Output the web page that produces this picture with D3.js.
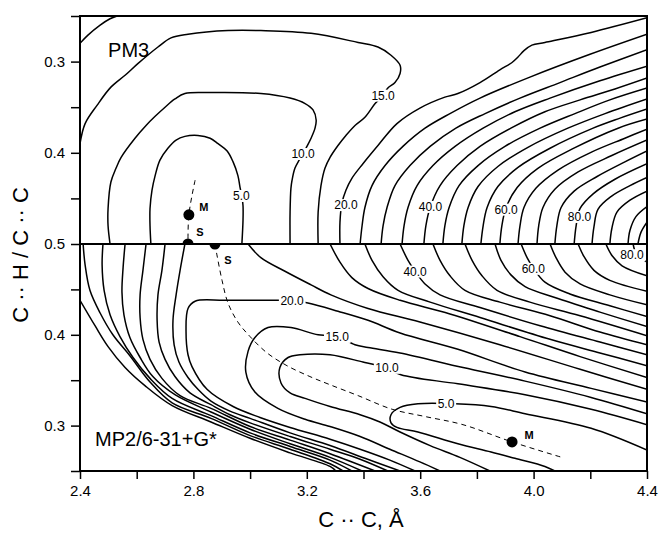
<!DOCTYPE html>
<html>
<head>
<meta charset="utf-8">
<script src="https://cdn.jsdelivr.net/npm/d3@7"></script>
<style>
body { margin: 0; background: #fff; }
svg { display: block; font-family: "Liberation Sans", Arial, sans-serif; }
</style>
</head>
<body>
<div id="chart"></div>
<script>
// axis ticks
const xTicks = [2.4, 2.6, 2.8, 3.0, 3.2, 3.4, 3.6, 3.8, 4.0, 4.2, 4.4];
const xTickLabels = ["2.4", "", "2.8", "", "3.2", "", "3.6", "", "4.0", "", "4.4"];
const yTopTicks = [0.25, 0.3, 0.35, 0.4, 0.45, 0.5];
const yTopTickLabels = ["", "0.3", "", "0.4", "", "0.5"];
const yBotTicks = [0.25, 0.3, 0.35, 0.4, 0.45];
const yBotTickLabels = ["", "0.3", "", "0.4", ""];

// PM3 panel contours, [C..C, C..H/C..C]
const pm3_5 = [[2.650,0.500],[2.647,0.480],[2.647,0.461],[2.654,0.441],[2.665,0.425],[2.682,0.408],[2.710,0.395],[2.739,0.386],[2.770,0.382],[2.816,0.381],[2.859,0.384],[2.887,0.390],[2.919,0.398],[2.940,0.410],[2.957,0.425],[2.964,0.437],[2.971,0.448],[2.975,0.458],[2.975,0.474],[2.971,0.500]];
const pm3_10 = [[2.506,0.500],[2.499,0.480],[2.499,0.461],[2.509,0.432],[2.527,0.417],[2.545,0.405],[2.594,0.384],[2.633,0.370],[2.665,0.360],[2.700,0.350],[2.735,0.341],[2.770,0.335],[2.862,0.334],[3.038,0.335],[3.141,0.340],[3.194,0.346],[3.222,0.353],[3.233,0.364],[3.229,0.373],[3.215,0.384],[3.197,0.395],[3.187,0.401],[3.173,0.408],[3.158,0.417],[3.148,0.430],[3.144,0.439],[3.141,0.465],[3.141,0.500]];
const pm3_15 = [[2.400,0.390],[2.418,0.368],[2.460,0.348],[2.509,0.328],[2.559,0.315],[2.605,0.302],[2.675,0.284],[2.721,0.274],[2.781,0.270],[2.922,0.266],[3.038,0.266],[3.215,0.269],[3.381,0.279],[3.451,0.284],[3.497,0.293],[3.529,0.304],[3.529,0.313],[3.511,0.323],[3.486,0.329],[3.469,0.337],[3.441,0.346],[3.405,0.361],[3.370,0.370],[3.338,0.381],[3.310,0.392],[3.282,0.405],[3.264,0.417],[3.250,0.436],[3.240,0.465],[3.240,0.500]];
const pm3_20a = [[2.400,0.280],[2.428,0.271],[2.471,0.260],[2.506,0.253],[2.531,0.250]];
const pm3_20 = [[3.317,0.500],[3.317,0.476],[3.324,0.455],[3.338,0.441],[3.359,0.428],[3.398,0.412],[3.451,0.392],[3.518,0.368],[3.599,0.351],[3.687,0.339],[3.733,0.335],[3.811,0.323],[3.881,0.309],[3.924,0.301],[3.945,0.295],[3.966,0.288],[3.994,0.282],[4.040,0.279],[4.203,0.268],[4.400,0.252]];
const pm3_25 = [[3.388,0.500],[3.395,0.480],[3.405,0.460],[3.430,0.436],[3.476,0.414],[3.539,0.393],[3.617,0.373],[3.705,0.357],[3.811,0.340],[3.987,0.317],[4.199,0.292],[4.400,0.270]];
const pm3_30 = [[3.462,0.500],[3.469,0.480],[3.483,0.460],[3.511,0.436],[3.564,0.414],[3.635,0.393],[3.726,0.373],[3.829,0.357],[3.952,0.340],[4.093,0.323],[4.234,0.306],[4.400,0.287]];
const pm3_35 = [[3.536,0.500],[3.543,0.480],[3.557,0.460],[3.589,0.436],[3.645,0.414],[3.723,0.393],[3.822,0.373],[3.934,0.355],[4.058,0.340],[4.234,0.321],[4.400,0.305]];
const pm3_40 = [[3.613,0.500],[3.620,0.480],[3.635,0.460],[3.670,0.436],[3.730,0.414],[3.811,0.393],[3.920,0.373],[4.040,0.355],[4.164,0.342],[4.287,0.330],[4.400,0.318]];
const pm3_45 = [[3.680,0.500],[3.687,0.480],[3.702,0.460],[3.737,0.436],[3.804,0.414],[3.899,0.393],[4.023,0.373],[4.146,0.357],[4.269,0.342],[4.400,0.329]];
const pm3_50 = [[3.747,0.500],[3.754,0.480],[3.769,0.460],[3.804,0.437],[3.874,0.415],[3.980,0.394],[4.121,0.373],[4.252,0.357],[4.400,0.341]];
const pm3_55 = [[3.814,0.500],[3.822,0.480],[3.836,0.460],[3.874,0.437],[3.945,0.416],[4.058,0.395],[4.210,0.373],[4.305,0.362],[4.400,0.352]];
const pm3_60 = [[3.881,0.500],[3.888,0.480],[3.903,0.460],[3.942,0.438],[4.015,0.417],[4.135,0.396],[4.298,0.373],[4.400,0.363]];
const pm3_65 = [[3.945,0.500],[3.952,0.480],[3.966,0.460],[4.008,0.439],[4.086,0.419],[4.206,0.399],[4.322,0.384],[4.400,0.374]];
const pm3_70 = [[4.012,0.500],[4.018,0.480],[4.033,0.460],[4.075,0.440],[4.157,0.421],[4.276,0.403],[4.400,0.386]];
const pm3_75 = [[4.075,0.500],[4.082,0.480],[4.097,0.460],[4.143,0.442],[4.224,0.426],[4.322,0.410],[4.400,0.398]];
const pm3_80 = [[4.143,0.500],[4.150,0.480],[4.164,0.461],[4.210,0.445],[4.287,0.429],[4.400,0.412]];
const pm3_85 = [[4.206,0.500],[4.213,0.481],[4.227,0.462],[4.273,0.448],[4.340,0.436],[4.400,0.427]];
const pm3_90 = [[4.269,0.500],[4.276,0.483],[4.294,0.465],[4.340,0.452],[4.400,0.442]];
const pm3_95 = [[4.333,0.500],[4.340,0.485],[4.361,0.470],[4.400,0.459]];
const pm3_100 = [[4.368,0.500],[4.379,0.487],[4.400,0.476]];

// MP2/6-31+G* panel contours
const mp2_5 = [[4.400,0.273],[4.203,0.297],[3.970,0.313],[3.850,0.321],[3.723,0.324],[3.592,0.324],[3.529,0.320],[3.497,0.312],[3.497,0.303],[3.518,0.298],[3.592,0.293],[3.733,0.280],[3.850,0.271],[3.934,0.264],[4.040,0.255],[4.075,0.250]];
const mp2_10 = [[4.400,0.301],[4.203,0.318],[3.970,0.334],[3.733,0.346],[3.532,0.356],[3.479,0.364],[3.441,0.367],[3.398,0.370],[3.282,0.378],[3.176,0.378],[3.134,0.375],[3.105,0.364],[3.109,0.347],[3.141,0.336],[3.194,0.330],[3.282,0.321],[3.388,0.312],[3.458,0.304],[3.529,0.293],[3.635,0.278],[3.740,0.265],[3.846,0.250]];
const mp2_15 = [[4.400,0.313],[4.203,0.331],[3.970,0.349],[3.751,0.364],[3.529,0.380],[3.416,0.386],[3.370,0.389],[3.303,0.399],[3.240,0.400],[3.144,0.408],[3.063,0.408],[3.017,0.397],[2.993,0.382],[2.985,0.359],[3.017,0.337],[3.098,0.319],[3.194,0.307],[3.282,0.299],[3.388,0.288],[3.493,0.274],[3.599,0.260],[3.670,0.250]];
const mp2_20 = [[4.400,0.326],[4.203,0.341],[3.970,0.359],[3.733,0.384],[3.529,0.402],[3.416,0.416],[3.310,0.426],[3.204,0.435],[3.144,0.438],[3.098,0.438],[2.911,0.438],[2.806,0.437],[2.781,0.429],[2.774,0.404],[2.781,0.378],[2.795,0.365],[2.848,0.340],[2.940,0.321],[3.035,0.309],[3.141,0.298],[3.282,0.285],[3.388,0.274],[3.493,0.262],[3.582,0.250]];
const mp2_25 = [[2.993,0.500],[3.038,0.485],[3.123,0.470],[3.215,0.455],[3.285,0.444],[3.416,0.429],[3.599,0.414],[3.881,0.389],[4.164,0.362],[4.400,0.340]];
const mp2_30 = [[3.282,0.500],[3.317,0.480],[3.359,0.463],[3.416,0.451],[3.529,0.438],[3.705,0.423],[3.952,0.398],[4.164,0.376],[4.400,0.353]];
const mp2_35 = [[3.405,0.500],[3.430,0.482],[3.469,0.464],[3.522,0.449],[3.635,0.436],[3.811,0.419],[4.058,0.395],[4.234,0.380],[4.400,0.366]];
const mp2_40 = [[3.529,0.500],[3.557,0.482],[3.582,0.470],[3.617,0.456],[3.670,0.444],[3.811,0.430],[4.023,0.410],[4.234,0.392],[4.400,0.378]];
const mp2_45 = [[3.645,0.500],[3.670,0.482],[3.705,0.465],[3.758,0.449],[3.881,0.436],[4.058,0.421],[4.234,0.403],[4.400,0.389]];
const mp2_50 = [[3.758,0.500],[3.783,0.482],[3.818,0.465],[3.871,0.449],[3.987,0.436],[4.164,0.421],[4.400,0.399]];
const mp2_55 = [[3.864,0.500],[3.885,0.482],[3.920,0.466],[3.970,0.453],[4.075,0.441],[4.234,0.425],[4.400,0.409]];
const mp2_60 = [[3.956,0.500],[3.977,0.485],[3.998,0.474],[4.040,0.458],[4.128,0.445],[4.269,0.432],[4.400,0.420]];
const mp2_65 = [[4.058,0.500],[4.079,0.485],[4.111,0.469],[4.164,0.456],[4.269,0.444],[4.400,0.433]];
const mp2_70 = [[4.157,0.500],[4.178,0.486],[4.213,0.471],[4.269,0.460],[4.400,0.448]];
const mp2_75 = [[4.255,0.500],[4.277,0.487],[4.312,0.476],[4.400,0.465]];
const mp2_80 = [[4.351,0.500],[4.361,0.490],[4.382,0.484],[4.400,0.480]];
// repulsive wall, lower left
const mp2_w25 = [[2.770,0.500],[2.753,0.471],[2.739,0.444],[2.728,0.416],[2.732,0.389],[2.749,0.370],[2.781,0.353],[2.816,0.340],[2.862,0.327],[2.929,0.316],[3.000,0.308],[3.141,0.292],[3.282,0.278],[3.405,0.264],[3.529,0.250]];
const mp2_w30 = [[2.700,0.500],[2.689,0.471],[2.675,0.444],[2.672,0.416],[2.679,0.392],[2.700,0.373],[2.735,0.354],[2.788,0.336],[2.862,0.323],[2.929,0.312],[3.000,0.303],[3.141,0.288],[3.282,0.274],[3.388,0.263],[3.486,0.250]];
const mp2_w35 = [[2.633,0.500],[2.622,0.471],[2.612,0.444],[2.612,0.419],[2.622,0.395],[2.647,0.373],[2.689,0.352],[2.753,0.333],[2.862,0.319],[3.000,0.299],[3.141,0.284],[3.282,0.269],[3.441,0.250]];
const mp2_w40 = [[2.559,0.500],[2.552,0.474],[2.548,0.447],[2.555,0.422],[2.576,0.397],[2.612,0.375],[2.657,0.354],[2.735,0.334],[2.862,0.315],[3.000,0.296],[3.141,0.280],[3.282,0.265],[3.395,0.250]];
const mp2_w45 = [[2.481,0.500],[2.478,0.477],[2.485,0.449],[2.506,0.422],[2.541,0.398],[2.587,0.375],[2.647,0.352],[2.725,0.330],[2.862,0.311],[3.000,0.292],[3.141,0.277],[3.282,0.262],[3.359,0.250]];
const mp2_w50 = [[2.411,0.500],[2.418,0.477],[2.435,0.449],[2.471,0.424],[2.516,0.400],[2.576,0.377],[2.647,0.348],[2.725,0.325],[2.862,0.308],[3.000,0.289],[3.141,0.274],[3.282,0.258],[3.328,0.250]];
const mp2_w55 = [[2.400,0.438],[2.453,0.410],[2.499,0.387],[2.559,0.364],[2.629,0.344],[2.725,0.322],[2.862,0.304],[3.000,0.286],[3.141,0.270],[3.282,0.255],[3.303,0.250]];

// reaction paths (dashed) and stationary points
const pm3Path = [[2.806,0.430],[2.784,0.468],[2.781,0.500]];
const mp2Path = [[2.876,0.500],[2.883,0.488],[2.901,0.460],[2.922,0.435],[2.957,0.414],[3.000,0.398],[3.060,0.380],[3.130,0.366],[3.211,0.354],[3.282,0.345],[3.381,0.333],[3.501,0.318],[3.617,0.310],[3.751,0.301],[3.924,0.282],[4.100,0.265]];
const pm3Points = [["M", 2.784, 0.468], ["S", 2.781, 0.500]];
const mp2Points = [["S", 2.876, 0.500], ["M", 3.924, 0.282]];

// contour labels [text, x, y]
const pm3Labels = [["5.0",2.969,0.447],["10.0",3.187,0.401],["15.0",3.469,0.337],["20.0",3.338,0.457],["40.0",3.636,0.459],["60.0",3.903,0.462],["80.0",4.162,0.470]];
const mp2Labels = [["5.0",3.691,0.324],["10.0",3.483,0.364],["15.0",3.307,0.398],["20.0",3.148,0.438],["40.0",3.582,0.470],["60.0",3.999,0.473],["80.0",4.347,0.488]];

const pm3Contours = [pm3_5, pm3_10, pm3_15, pm3_20a, pm3_20, pm3_25, pm3_30, pm3_35, pm3_40, pm3_45, pm3_50, pm3_55, pm3_60, pm3_65, pm3_70, pm3_75, pm3_80, pm3_85, pm3_90, pm3_95, pm3_100];
const mp2Contours = [mp2_5, mp2_10, mp2_15, mp2_20, mp2_25, mp2_30, mp2_35, mp2_40, mp2_45, mp2_50, mp2_55, mp2_60, mp2_65, mp2_70, mp2_75, mp2_80, mp2_w25, mp2_w30, mp2_w35, mp2_w40, mp2_w45, mp2_w50, mp2_w55];

const W = 662, H = 534;
const plotLeft = 80, plotRight = 647, plotTop = 16, plotMid = 244, plotBottom = 471;

const svg = d3.select("#chart").append("svg")
    .attr("width", W)
    .attr("height", H);

const x = d3.scaleLinear().domain([2.4, 4.4]).range([plotLeft, plotRight]);
const yTop = d3.scaleLinear().domain([0.25, 0.5]).range([plotTop, plotMid]);
const yBot = d3.scaleLinear().domain([0.5, 0.25]).range([plotMid, plotBottom]);

const defs = svg.append("defs");
defs.append("clipPath").attr("id", "clipTop")
  .append("rect").attr("x", plotLeft).attr("y", plotTop).attr("width", plotRight - plotLeft).attr("height", plotMid - plotTop);
defs.append("clipPath").attr("id", "clipBot")
  .append("rect").attr("x", plotLeft).attr("y", plotMid).attr("width", plotRight - plotLeft).attr("height", plotBottom - plotMid);

function drawPanel(clip, y, contours, path, points, labels, title, titlePos) {
    const g = svg.append("g").attr("clip-path", "url(#" + clip + ")");
    const line = d3.line()
        .x(d => x(d[0]))
        .y(d => y(d[1]))
        .curve(d3.curveCatmullRom.alpha(0.5));

    g.selectAll("path.contour")
      .data(contours)
      .join("path")
        .attr("class", "contour")
        .attr("d", line)
        .attr("fill", "none")
        .attr("stroke", "black")
        .attr("stroke-width", 1.5);

    g.append("path")
        .attr("d", line(path))
        .attr("fill", "none")
        .attr("stroke", "black")
        .attr("stroke-width", 1)
        .attr("stroke-dasharray", "5,4");

    g.selectAll("circle")
      .data(points)
      .join("circle")
        .attr("cx", d => x(d[1]))
        .attr("cy", d => y(d[2]))
        .attr("r", 5.5)
        .attr("fill", "black");

    // contour labels sit on a white patch that breaks the line
    const lg = svg.append("g").attr("font-size", 12);
    labels.forEach(d => {
        const t = lg.append("text")
            .attr("x", x(d[1]))
            .attr("y", y(d[2]))
            .attr("dy", "0.36em")
            .attr("text-anchor", "middle")
            .text(d[0]);
        const b = t.node().getBBox();
        lg.insert("rect", () => t.node())
            .attr("x", b.x - 1.5)
            .attr("y", b.y + 1)
            .attr("width", b.width + 3)
            .attr("height", b.height - 2)
            .attr("fill", "white");
    });

    svg.append("text")
        .attr("x", x(titlePos[0]))
        .attr("y", y(titlePos[1]))
        .attr("font-size", 20)
        .text(title);
}

drawPanel("clipTop", yTop, pm3Contours, pm3Path, pm3Points, pm3Labels, "PM3", [2.499, 0.295]);
drawPanel("clipBot", yBot, mp2Contours, mp2Path, mp2Points, mp2Labels, "MP2/6-31+G*", [2.453, 0.277]);

// M / S markers
const mk = svg.append("g").attr("font-size", 11).attr("font-weight", "bold");
mk.append("text").attr("x", x(pm3Points[0][1]) + 15).attr("y", yTop(pm3Points[0][2]) - 4).attr("text-anchor", "middle").text("M");
mk.append("text").attr("x", x(pm3Points[1][1]) + 12).attr("y", yTop(pm3Points[1][2]) - 8).attr("text-anchor", "middle").text("S");
mk.append("text").attr("x", x(mp2Points[0][1]) + 13).attr("y", yBot(mp2Points[0][2]) + 20).attr("text-anchor", "middle").text("S");
mk.append("text").attr("x", x(mp2Points[1][1]) + 17).attr("y", yBot(mp2Points[1][2]) - 3).attr("text-anchor", "middle").text("M");

// frame and the shared 0.5 line
svg.append("rect")
    .attr("x", plotLeft).attr("y", plotTop)
    .attr("width", plotRight - plotLeft).attr("height", plotBottom - plotTop)
    .attr("fill", "none").attr("stroke", "black").attr("stroke-width", 2);
svg.append("line")
    .attr("x1", plotLeft).attr("x2", plotRight)
    .attr("y1", plotMid).attr("y2", plotMid)
    .attr("stroke", "black").attr("stroke-width", 2);

function styleAxis(g) {
    g.select(".domain").remove();
    g.attr("font-size", 15).attr("font-family", "'Liberation Sans', Arial, sans-serif");
    g.selectAll(".tick line").attr("stroke-width", 1.5);
}

svg.append("g")
    .attr("transform", "translate(" + plotLeft + ",0)")
    .call(d3.axisLeft(yTop).tickValues(yTopTicks).tickFormat((d, i) => yTopTickLabels[i]).tickSize(9).tickPadding(6))
    .call(styleAxis);

svg.append("g")
    .attr("transform", "translate(" + plotLeft + ",0)")
    .call(d3.axisLeft(yBot).tickValues(yBotTicks).tickFormat((d, i) => yBotTickLabels[i]).tickSize(9).tickPadding(6))
    .call(styleAxis);

svg.append("g")
    .attr("transform", "translate(0," + plotBottom + ")")
    .call(d3.axisBottom(x).tickValues(xTicks).tickFormat((d, i) => xTickLabels[i]).tickSize(8).tickPadding(6))
    .call(styleAxis);

// axis titles
svg.append("text")
    .attr("x", 361).attr("y", 527)
    .attr("text-anchor", "middle")
    .attr("font-size", 22)
    .text("C \u00B7\u00B7 C, \u00C5");

svg.append("text")
    .attr("transform", "translate(28,255) rotate(-90)")
    .attr("text-anchor", "middle")
    .attr("font-size", 22)
    .text("C \u00B7\u00B7 H / C \u00B7\u00B7 C");
</script>
</body>
</html>
